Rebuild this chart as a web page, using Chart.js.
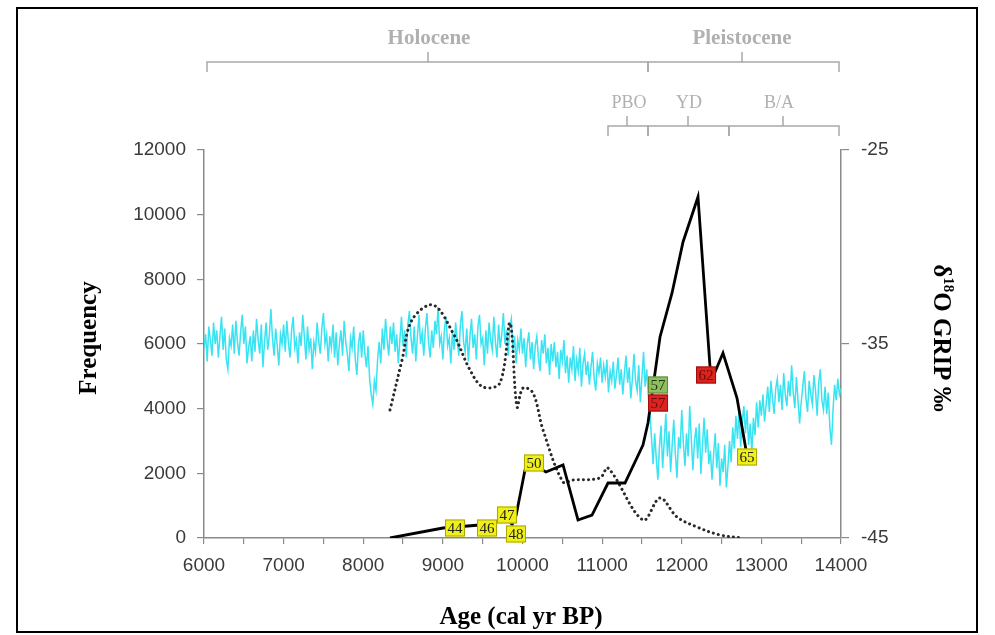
<!DOCTYPE html>
<html><head><meta charset="utf-8">
<script src="https://cdn.jsdelivr.net/npm/chart.js@4"></script>
<style>
html,body{margin:0;padding:0;background:#fff;}
#wrap{position:relative;width:995px;height:635px;overflow:hidden;}
#frame{position:absolute;left:16px;top:7px;width:962px;height:626px;border:2px solid #000;box-sizing:border-box;pointer-events:none;}
canvas{position:absolute;left:0;top:0;}
</style></head><body>
<div id="wrap"><canvas id="c" width="995" height="635"></canvas><div id="frame"></div></div>
<script>
// Frequency (solid black line)
const freqAge = [8336,9002,9466,9755,9800,9870,9920,10031,10094,10295,10509,10697,10873,11074,11287,11513,11576,11664,11727,11878,12016,12204,12355,12418,12518,12694,12807];
const freqVal = [0,309,402,557,600,420,700,2103,2320,2041,2258,557,711,1701,1701,2876,3557,5103,6217,7578,9155,10547,5289,5134,5722,4330,2722];

// Dotted curve
const dotAge = [8336,8487,8612,8876,9127,9341,9504,9717,9843,9931,10006,10132,10258,10509,10634,10973,11074,11513,11727,11940,12192,12480,12769];
const dotVal = [3959,5505,6743,7207,6341,5196,4671,4794,6650,4052,4640,4485,3340,1732,1794,1856,2165,557,1237,650,340,93,0];

// GRIP d18O (cyan)
const gripAge = [
6000,6020,6040,6060,6080,6100,6120,6140,6160,6180,
6200,6220,6240,6260,6280,6300,6320,6340,6360,6380,
6400,6420,6440,6460,6480,6500,6520,6540,6560,6580,
6600,6620,6640,6660,6680,6700,6720,6740,6760,6780,
6800,6820,6840,6860,6880,6900,6920,6940,6960,6980,
7000,7020,7040,7060,7080,7100,7120,7140,7160,7180,
7200,7220,7240,7260,7280,7300,7320,7340,7360,7380,
7400,7420,7440,7460,7480,7500,7520,7540,7560,7580,
7600,7620,7640,7660,7680,7700,7720,7740,7760,7780,
7800,7820,7840,7860,7880,7900,7920,7940,7960,7980,
8000,8020,8040,8060,8080,8100,8120,8140,8160,8180,
8200,8220,8240,8260,8280,8300,8320,8340,8360,8380,
8400,8420,8440,8460,8480,8500,8520,8540,8560,8580,
8600,8620,8640,8660,8680,8700,8720,8740,8760,8780,
8800,8820,8840,8860,8880,8900,8920,8940,8960,8980,
9000,9020,9040,9060,9080,9100,9120,9140,9160,9180,
9200,9220,9240,9260,9280,9300,9320,9340,9360,9380,
9400,9420,9440,9460,9480,9500,9520,9540,9560,9580,
9600,9620,9640,9660,9680,9700,9720,9740,9760,9780,
9800,9820,9840,9860,9880,9900,9920,9940,9960,9980,
10000,10020,10040,10060,10080,10100,10120,10140,10160,10180,
10200,10220,10240,10260,10280,10300,10320,10340,10360,10380,
10400,10420,10440,10460,10480,10500,10520,10540,10560,10580,
10600,10620,10640,10660,10680,10700,10720,10740,10760,10780,
10800,10820,10840,10860,10880,10900,10920,10940,10960,10980,
11000,11020,11040,11060,11080,11100,11120,11140,11160,11180,
11200,11220,11240,11260,11280,11300,11320,11340,11360,11380,
11400,11420,11440,11460,11480,11500,11520,11540,11560,11580,
11600,11620,11640,11660,11680,11700,11720,11740,11760,11780,
11800,11820,11840,11860,11880,11900,11920,11940,11960,11980,
12000,12020,12040,12060,12080,12100,12120,12140,12160,12180,
12200,12220,12240,12260,12280,12300,12320,12340,12360,12380,
12400,12420,12440,12460,12480,12500,12520,12540,12560,12580,
12600,12620,12640,12660,12680,12700,12720,12740,12760,12780,
12800,12820,12840,12860,12880,12900,12920,12940,12960,12980,
13000,13020,13040,13060,13080,13100,13120,13140,13160,13180,
13200,13220,13240,13260,13280,13300,13320,13340,13360,13380,
13400,13420,13440,13460,13480,13500,13520,13540,13560,13580,
13600,13620,13640,13660,13680,13700,13720,13740,13760,13780,
13800,13820,13840,13860,13880,13900,13920,13940,13960,13980,
14000];
const gripVal = [
-35.2,-34.5,-35.9,-34.1,-34.8,-35.6,-33.9,-35.0,-34.3,-35.7,
-34.6,-33.6,-35.3,-34.2,-35.8,-36.3,-34.7,-35.1,-34.0,-35.5,
-33.8,-34.9,-35.6,-34.4,-33.5,-35.0,-34.1,-36.0,-35.2,-34.6,
-35.9,-34.3,-35.4,-33.7,-34.8,-35.5,-34.0,-36.2,-34.9,-33.9,
-35.3,-34.6,-33.2,-34.7,-35.6,-34.2,-35.1,-36.1,-34.5,-35.0,
-34.0,-35.4,-33.8,-34.9,-35.7,-34.3,-33.6,-35.2,-34.8,-36.0,
-34.4,-35.1,-33.5,-34.6,-35.8,-34.1,-35.3,-34.7,-36.3,-34.9,
-35.4,-33.9,-34.8,-35.5,-34.2,-33.4,-35.0,-34.5,-35.9,-34.6,
-35.2,-34.0,-35.7,-34.4,-36.1,-35.0,-34.3,-35.6,-33.8,-34.9,
-35.5,-36.4,-34.7,-35.2,-34.1,-35.8,-36.6,-35.0,-34.4,-35.7,
-34.3,-35.5,-36.2,-35.1,-36.8,-37.6,-38.1,-36.9,-37.4,-35.8,
-34.9,-36.0,-34.2,-35.3,-33.7,-34.8,-35.6,-34.1,-35.0,-33.9,
-35.4,-34.5,-36.0,-34.8,-33.6,-35.1,-34.3,-35.7,-34.0,-33.3,
-34.7,-35.5,-34.1,-35.9,-34.6,-33.5,-35.0,-34.4,-35.6,-34.2,
-33.4,-34.9,-35.7,-34.3,-35.2,-33.8,-34.5,-33.1,-35.0,-34.6,
-35.8,-34.2,-33.6,-35.1,-34.7,-36.0,-34.4,-35.3,-33.9,-34.8,
-35.6,-34.0,-33.3,-34.9,-35.4,-34.2,-35.9,-34.6,-33.7,-35.2,
-34.5,-35.8,-34.1,-33.5,-35.0,-34.7,-36.1,-34.3,-35.5,-33.9,
-34.8,-35.3,-33.6,-34.9,-35.7,-34.0,-35.2,-34.5,-33.4,-35.0,
-34.3,-35.6,-34.1,-33.7,-35.4,-34.6,-36.0,-34.8,-35.3,-34.2,
-35.5,-34.7,-36.2,-35.0,-34.4,-35.8,-34.9,-36.3,-35.1,-34.6,
-35.7,-36.4,-34.8,-35.5,-34.5,-36.0,-35.2,-36.6,-35.0,-35.9,
-34.9,-36.2,-35.4,-36.8,-35.3,-35.9,-34.8,-36.5,-35.6,-37.0,
-35.7,-36.3,-35.1,-36.9,-35.8,-36.4,-35.2,-37.2,-36.0,-35.5,
-36.6,-35.9,-37.1,-36.2,-35.4,-36.8,-37.4,-36.0,-36.5,-35.7,
-37.0,-36.1,-36.7,-35.8,-37.5,-36.4,-36.9,-35.9,-37.3,-36.6,
-35.7,-37.1,-36.3,-37.6,-36.5,-35.6,-37.0,-36.2,-37.8,-36.8,
-35.5,-36.9,-37.4,-36.1,-38.0,-36.7,-35.4,-37.2,-36.3,-37.7,
-38.6,-39.8,-41.2,-39.6,-40.9,-42.0,-40.3,-39.2,-41.4,-40.0,
-38.6,-40.8,-39.5,-41.6,-40.2,-38.9,-40.7,-41.9,-39.8,-40.4,
-38.4,-40.1,-41.3,-39.6,-40.8,-38.2,-39.9,-41.5,-40.0,-39.3,
-40.9,-39.1,-41.7,-40.3,-38.8,-40.6,-39.4,-41.2,-40.5,-42.0,
-40.7,-39.6,-41.4,-40.1,-42.3,-40.9,-41.6,-40.2,-42.4,-41.3,
-40.0,-41.1,-39.3,-40.4,-38.7,-39.9,-38.5,-40.3,-39.0,-38.2,
-39.6,-38.4,-40.2,-39.1,-40.6,-38.8,-39.7,-38.0,-39.3,-37.9,
-38.7,-37.6,-39.0,-38.1,-37.2,-38.5,-36.9,-37.8,-38.6,-37.3,
-36.8,-38.0,-37.1,-38.4,-36.5,-37.6,-38.2,-36.9,-37.7,-36.1,
-37.5,-38.3,-36.7,-37.9,-39.1,-38.0,-37.2,-36.4,-37.8,-38.5,
-36.9,-37.6,-38.1,-36.6,-37.4,-38.7,-37.0,-36.3,-37.9,-38.4,
-37.2,-38.6,-37.5,-39.3,-40.2,-38.4,-37.1,-37.9,-36.8,-37.6,
-37.3];

// Sample labels
const labelAge = [9152,9554,9805,9918,10144,11702,11702,12305,12820];
const labelVal = [309,309,711,124,2320,4732,4175,5041,2505];
const labelText = ['44','46','47','48','50','57','57','62','65'];
const labelKind = ['y','y','y','y','y','g','r','r','y'];

// Axis ticks
const xTicksMajor = [6000,7000,8000,9000,10000,11000,12000,13000,14000];
const yTicks = [0,2000,4000,6000,8000,10000,12000];
const y1Ticks = [-45,-35,-25];

const pts = (a, b) => a.map((v, i) => ({x: v, y: b[i]}));
const boxStyle = {
  y: {fill:'#f0ef1a', stroke:'#a8a800', text:'#222'},
  g: {fill:'#8fbd62', stroke:'#5e8a3a', text:'#1e3a10'},
  r: {fill:'#dc231d', stroke:'#9a1010', text:'#6a0c0c'}
};

const deco = {
  id: 'deco',
  afterDatasetsDraw(chart) {
    const ctx = chart.ctx, xs = chart.scales.x, ys = chart.scales.y;
    ctx.save();
    ctx.font = '15px "Liberation Serif"';
    ctx.textAlign = 'center'; ctx.textBaseline = 'middle';
    labelAge.forEach((a, i) => {
      const px = xs.getPixelForValue(a), py = ys.getPixelForValue(labelVal[i]);
      const s = boxStyle[labelKind[i]];
      ctx.fillStyle = s.fill; ctx.strokeStyle = s.stroke; ctx.lineWidth = 1;
      ctx.fillRect(px - 10, py - 8.5, 20, 17);
      ctx.strokeRect(px - 10 + 0.5, py - 8.5 + 0.5, 19, 16);
      ctx.fillStyle = s.text;
      ctx.fillText(labelText[i], px, py + 1);
    });
    ctx.restore();
  },
  afterDraw(chart) {
    const ctx = chart.ctx;
    ctx.save();
    ctx.strokeStyle = '#a9a9a9'; ctx.lineWidth = 1.5;
    const bracket = (x1, x2, xc, y, down, up) => {
      ctx.beginPath();
      ctx.moveTo(x1, y + down); ctx.lineTo(x1, y); ctx.lineTo(x2, y); ctx.lineTo(x2, y + down);
      ctx.moveTo(xc, y); ctx.lineTo(xc, y - up);
      ctx.stroke();
    };
    bracket(207, 648, 428, 62, 10, 10);
    bracket(648, 839, 742, 62, 10, 10);
    bracket(608, 648, 627, 126, 10, 10);
    bracket(648, 729, 688, 126, 10, 10);
    bracket(729, 839, 783, 126, 10, 10);
    ctx.fillStyle = '#b0b0b0';
    ctx.textAlign = 'center'; ctx.textBaseline = 'middle';
    ctx.font = 'bold 21px "Liberation Serif"';
    ctx.fillText('Holocene', 429, 39);
    ctx.fillText('Pleistocene', 742, 39);
    ctx.font = '18px "Liberation Serif"';
    ctx.fillText('PBO', 629, 103);
    ctx.fillText('YD', 689, 103);
    ctx.fillText('B/A', 779, 103);
    ctx.fillStyle = '#000';
    ctx.font = 'bold 25px "Liberation Serif"';
    ctx.fillText('Age (cal yr BP)', 521, 618);
    ctx.save();
    ctx.translate(90, 338); ctx.rotate(-Math.PI / 2);
    ctx.fillText('Frequency', 0, 0);
    ctx.restore();
    ctx.save();
    ctx.translate(942, 338); ctx.rotate(Math.PI / 2);
    ctx.textAlign = 'left'; ctx.textBaseline = 'alphabetic';
    const big = 'bold 25px "Liberation Serif"', small = 'bold 15px "Liberation Serif"';
    ctx.font = big; const w1 = ctx.measureText('\u03b4').width;
    ctx.font = small; const w2 = ctx.measureText('18').width;
    ctx.font = big; const w3 = ctx.measureText('O GRIP \u2030').width;
    let x0 = -(w1 + w2 + w3) / 2;
    ctx.font = big; ctx.fillText('\u03b4', x0, 8);
    ctx.font = small; ctx.fillText('18', x0 + w1, -2);
    ctx.font = big; ctx.fillText('O GRIP \u2030', x0 + w1 + w2, 8);
    ctx.restore();
    ctx.restore();
  }
};

const tickFont = {family: '"Liberation Sans"', size: 19};
new Chart(document.getElementById('c'), {
  type: 'line',
  data: {
    datasets: [
      {data: pts(freqAge, freqVal), yAxisID: 'y', borderColor: '#000', borderWidth: 2.8, pointRadius: 0, tension: 0, fill: false},
      {data: pts(dotAge, dotVal), yAxisID: 'y', borderColor: '#2a2a2a', borderWidth: 3, borderDash: [0.1, 5], borderCapStyle: 'round', pointRadius: 0, tension: 0.35, fill: false},
      {data: pts(gripAge, gripVal), yAxisID: 'y1', borderColor: '#38e3f2', borderWidth: 1.5, pointRadius: 0, tension: 0, fill: false}
    ]
  },
  options: {
    responsive: false, animation: false, devicePixelRatio: 1,
    layout: {padding: {top: 150, left: 0, right: 0, bottom: 0}},
    plugins: {legend: {display: false}, tooltip: {enabled: false}},
    scales: {
      x: {
        type: 'linear', min: 6000, max: 14000,
        afterBuildTicks: s => { s.ticks = []; for (let i = 0; i < xTicksMajor.length; i++) { s.ticks.push({value: xTicksMajor[i]}); if (i < xTicksMajor.length - 1) s.ticks.push({value: (xTicksMajor[i] + xTicksMajor[i + 1]) / 2}); } },
        ticks: {callback: v => xTicksMajor.includes(v) ? String(v) : '', font: tickFont, color: '#3a3a3a', maxRotation: 0, autoSkip: false, padding: 10},
        grid: {drawOnChartArea: false, tickLength: 6, color: '#8a8a8a', lineWidth: 1.2},
        border: {color: '#8a8a8a', width: 1.5},
        afterFit: s => { s.height = 97; }
      },
      y: {
        position: 'left', min: 0, max: 12000,
        afterBuildTicks: s => { s.ticks = yTicks.map(v => ({value: v})); },
        ticks: {callback: v => String(v), font: tickFont, color: '#3a3a3a', padding: 11},
        grid: {drawOnChartArea: false, tickLength: 7, color: '#8a8a8a', lineWidth: 1.2},
        border: {color: '#8a8a8a', width: 1.5},
        afterFit: s => { s.width = 204; }
      },
      y1: {
        position: 'right', min: -45, max: -25,
        afterBuildTicks: s => { s.ticks = y1Ticks.map(v => ({value: v})); },
        ticks: {callback: v => String(v), font: tickFont, color: '#3a3a3a', padding: 12},
        grid: {drawOnChartArea: false, tickLength: 8, color: '#8a8a8a', lineWidth: 1.2},
        border: {color: '#8a8a8a', width: 1.5},
        afterFit: s => { s.width = 154; }
      }
    }
  },
  plugins: [deco]
});
</script>
</body></html>
